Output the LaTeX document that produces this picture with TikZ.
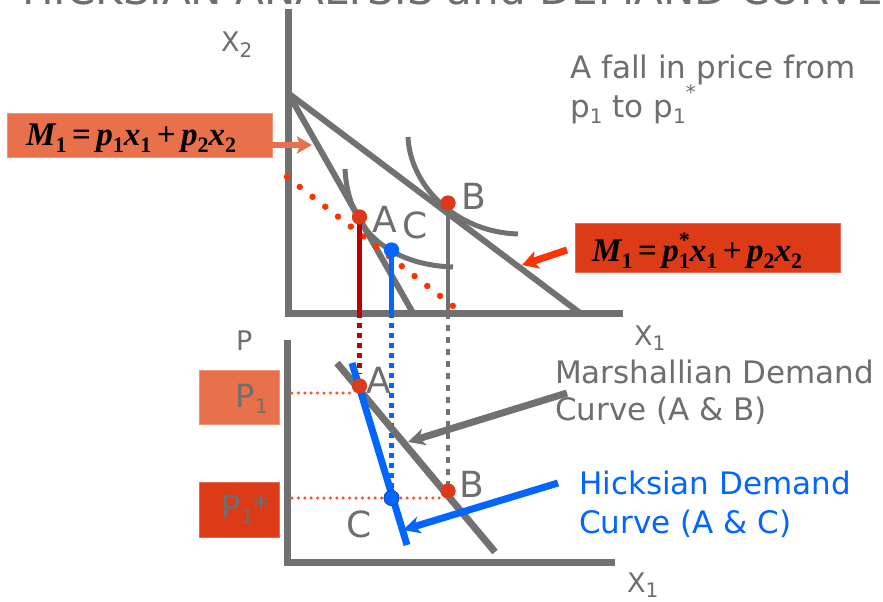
\documentclass[tikz,border=0pt]{standalone}
\usepackage{fontspec}
\setmainfont{DejaVu Sans}
\newfontfamily\tnr{Liberation Serif}
\usetikzlibrary{arrows.meta}
\definecolor{lgray}{RGB}{113,113,113}
\definecolor{tgray}{RGB}{110,110,110}
\definecolor{hblue}{RGB}{0,102,255}
\definecolor{dred}{RGB}{192,0,0}
\definecolor{dotred}{RGB}{221,58,26}
\definecolor{orred}{RGB}{255,51,0}
\definecolor{boxa}{RGB}{232,112,74}
\definecolor{boxb}{RGB}{221,58,23}
\definecolor{hdot}{RGB}{255,85,45}
\newcommand{\fsub}[1]{\raisebox{-0.24em}{\fontsize{22}{22}\selectfont\bfseries\upshape #1}}
\newcommand{\fsup}{\makebox[0pt][l]{\raisebox{0.42em}{\fontsize{22}{22}\selectfont\bfseries\upshape *}}}
\newcommand{\tsub}[1]{\raisebox{-0.2em}{\fontsize{20}{20}\selectfont #1}}
\newcommand{\Mexpr}[1]{M\fsub{1}\,{\upshape =}\,p#1\fsub{1}x\fsub{1}\,{\upshape +}\,p\fsub{2}x\fsub{2}}
\begin{document}
\begin{tikzpicture}[x=1pt,y=-1pt,
  axisline/.style={draw=lgray, line width=7pt, line join=miter},
  bline/.style={draw=lgray, line width=6pt},
  icurve/.style={draw=lgray, line width=5pt},
  rdot/.style={circle, fill=dotred, minimum size=15pt, inner sep=0pt},
  bdot/.style={circle, fill=hblue, minimum size=15pt, inner sep=0pt},
  vred/.style={draw=dred, line width=5pt},
  vblue/.style={draw=hblue, line width=5pt},
  vgray/.style={draw=lgray, line width=4.5pt},
  dashv/.style={dash pattern=on 5pt off 5pt},
  dotline/.style={draw=orred, line width=6.5pt, line cap=round, dash pattern=on 0pt off 16.15pt},
  hdotline/.style={draw=hdot, line width=3.5pt, line cap=round, dash pattern=on 0pt off 6.4pt},
  lbl/.style={text=tgray, font=\fontsize{36}{36}\selectfont, inner sep=0pt, anchor=base west},
  axlbl/.style={text=tgray, font=\fontsize{27}{27}\selectfont, inner sep=0pt, anchor=base west},
  txt/.style={text=tgray, font=\fontsize{31}{37}\selectfont, inner sep=0pt, anchor=base west},
  btxt/.style={txt, text=hblue},
  fml/.style={font=\tnr\bfseries\itshape\fontsize{33}{33}\selectfont, text=black, inner sep=0pt, anchor=base west},
  boxA/.style={fill=boxa, draw=boxa!75!white, line width=0.8pt, inner sep=0pt},
  boxB/.style={fill=boxb, draw=boxb!75!white, line width=0.8pt, inner sep=0pt},
  darrow/.style={line width=7pt, -{Stealth[length=17pt,width=17pt,inset=5pt]}},
]
\useasboundingbox (0,0) rectangle (883,602);
\fill[white] (0,0) rectangle (883,602);
% title (cut off at the top)
\begin{scope}
\clip (0,0) rectangle (883,602);
\node[anchor=base west, text=tgray, font=\fontsize{42}{42}\selectfont, inner sep=0pt] (title) at (22,5) {HICKSIAN ANALYSIS and DEMAND CURVE};
\end{scope}

% ---------- top panel ----------
\coordinate (Ytop) at (288,9);
\coordinate (O1) at (288,313);
\coordinate (Xend) at (623,313);
\coordinate (Bst) at (288,93);
\coordinate (S1) at (413,313);
\coordinate (S2) at (580,313);
\coordinate (D1) at (287,177);
\coordinate (D2) at (453,306);
\coordinate (IC1s) at (345,169);
\coordinate (IC1e) at (453,267);
\coordinate (IC2s) at (408,137);
\coordinate (IC2e) at (518,234);

\draw[bline] (Bst) -- (S1);
\draw[bline] (Bst) -- (S2);
\draw[axisline] (Ytop) -- (O1) -- (Xend);
\draw[icurve] (IC1s) .. controls (348,232) and (392,265) .. (IC1e);
\draw[icurve] (IC2s) .. controls (410,185) and (455,232) .. (IC2e);
\draw[dotline] (D1) -- (D2);

\node[rdot] (A) at (359.5,217) {};
\node[rdot] (B) at (448,203) {};
\node[bdot] (C) at (391.5,250) {};
\coordinate (Ax) at (359.5,313);
\coordinate (Bx) at (448,313);
\coordinate (Cx) at (391.5,313);

% ---------- bottom panel ----------
\coordinate (Ptop) at (287,340);
\coordinate (O2) at (287,562);
\coordinate (X2end) at (615,562);
\coordinate (MD1) at (337,363);
\coordinate (MD2) at (495,552);
\coordinate (HD1) at (352,363);
\coordinate (HD2) at (407,545);
\node[rdot] (Al) at (359.5,386) {};
\node[rdot] (Bl) at (448,491) {};
\node[bdot, draw=hblue!70!black, line width=0.6pt] (Cl) at (391.5,498) {};
\coordinate (Alend) at (359.5,374);
\coordinate (Blend) at (448,486);
\coordinate (P1l) at (292,393);
\coordinate (P1r) at (353,393);
\coordinate (P2l) at (292,498);
\coordinate (P2r) at (445,498);

% vertical connectors
\draw[vred] (A.center) -- (Ax);
\draw[vblue] (C.center) -- (Cx);
\draw[vgray] (B.center) -- (Bx);
\draw[vred, dashv] (Ax) -- (Alend);
\draw[vblue, dashv] (Cx) -- (Cl.center);
\draw[vgray, dash pattern=on 6pt off 6pt] (Bx) -- (Blend);

\draw[axisline] (Ptop) -- (O2) -- (X2end);
\draw[hdotline] (P1l) -- (P1r);
\draw[hdotline] (P2l) -- (P2r);
\draw[draw=lgray, line width=7pt] (MD1) -- (MD2);
\draw[draw=hblue, line width=7pt] (HD1) -- (HD2);

% redraw dots on top
\node[rdot] at (A) {};
\node[rdot] at (B) {};
\node[bdot] at (C) {};
\node[rdot] at (Al) {};
\node[rdot] at (Bl) {};
\node[bdot, draw=hblue!70!black, line width=0.6pt] at (Cl) {};

% arrows to demand curves
\coordinate (MAs) at (567,393);
\coordinate (MAe) at (408,442);
\coordinate (HAs) at (558,483);
\coordinate (HAe) at (403,530);
\draw[darrow, draw=lgray, fill=lgray] (MAs) -- (MAe);
\draw[darrow, draw=hblue, fill=hblue] (HAs) -- (HAe);

% point labels
\node[lbl] (lA) at (372,232) {A};
\node[lbl] (lC) at (402,238) {C};
\node[lbl] (lB) at (461,209) {B};
\node[lbl] (lAl) at (366,393) {A};
\node[lbl] (lBl) at (459,497) {B};
\node[lbl] (lCl) at (346,537) {C};

% axis labels
\node[axlbl] (X2) at (221,52) {X\tsub{2}};
\node[axlbl] (X1a) at (634,345) {X\tsub{1}};
\node[axlbl] (P) at (236,350) {P};
\node[axlbl] (X1b) at (627,592) {X\tsub{1}};

% text blocks
\node[txt] (fall1) at (570,78) {A fall in price from};
\node[txt] (fall2) at (570,117) {p\tsub{1} to p\tsub{1}\raisebox{0.55em}{\fontsize{20}{20}\selectfont *}};
\node[txt] (mar1) at (555,383) {Marshallian Demand};
\node[txt] (mar2) at (555,420) {Curve (A \& B)};
\node[btxt] (hic1) at (579,494) {Hicksian Demand};
\node[btxt] (hic2) at (579,533) {Curve (A \& C)};

% formula boxes
\node[boxA, minimum width=265pt, minimum height=44pt] (M1a) at (139.5,135) {};
\node[fml] (f1) at (26,145) {\Mexpr{}};
\node[boxB, minimum width=265pt, minimum height=49pt] (M1b) at (707.5,247.5) {};
\node[fml] (f2) at (592,261) {\Mexpr{\fsup}};
\coordinate (oa1) at (M1a.east |- 0,145);
\coordinate (oa2) at (312,145);
\draw[line width=6pt, draw=boxa, fill=boxa, -{Stealth[length=15pt,width=17pt,inset=3pt]}] (oa1) -- (oa2);
\coordinate (ra1) at (567,250);
\coordinate (ra2) at (522,265);
\draw[line width=7pt, draw=orred, fill=orred, -{Stealth[length=16pt,width=18pt,inset=4pt]}] (ra1) -- (ra2);

% price boxes
\node[boxA, minimum width=80pt, minimum height=54pt] (P1box) at (239,397) {};
\node[txt, anchor=base east, font=\fontsize{32}{32}\selectfont] (P1t) at (268,407) {P\tsub{1}};
\node[boxB, minimum width=80pt, minimum height=55pt] (P2box) at (239,509.5) {};
\node[txt, anchor=base east, font=\fontsize{32}{32}\selectfont] (P2t) at (270,518) {P\tsub{1}*};
\end{tikzpicture}
\end{document}
